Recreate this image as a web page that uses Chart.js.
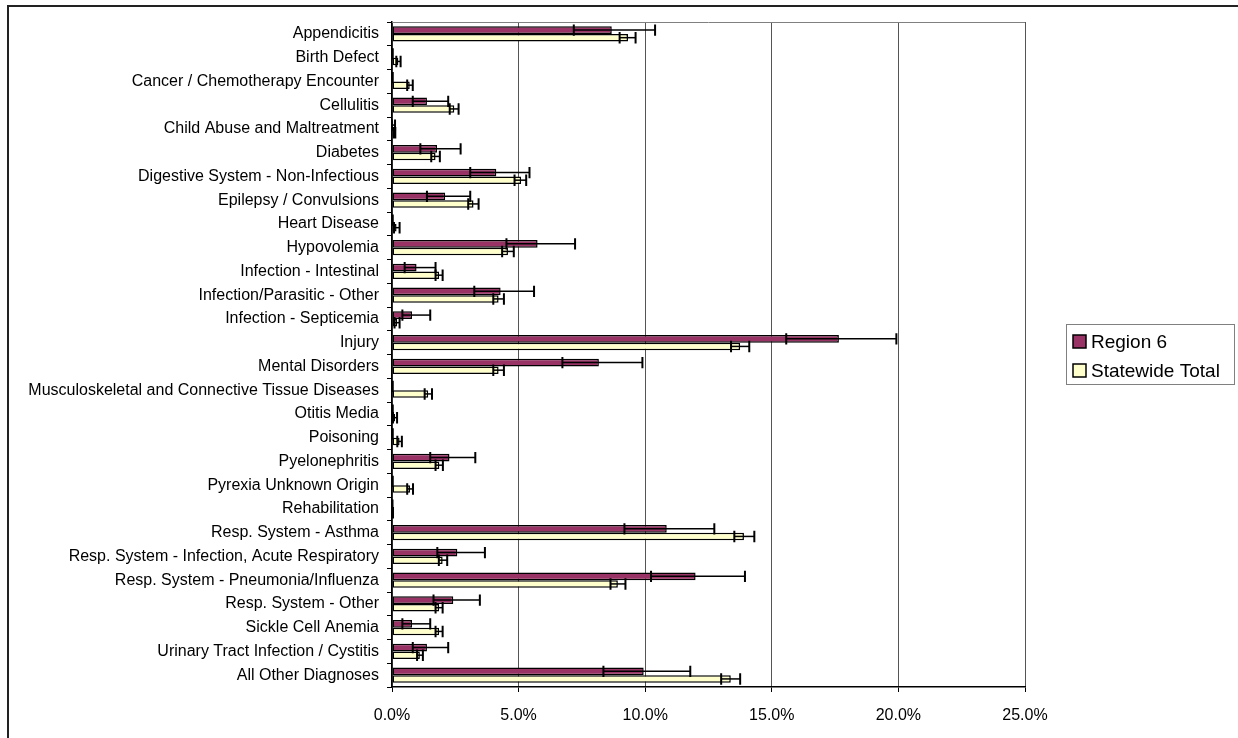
<!DOCTYPE html>
<html>
<head>
<meta charset="utf-8">
<script src="https://cdn.jsdelivr.net/npm/chart.js@4.4.1/dist/chart.umd.min.js"></script>
<style>
  html, body { margin: 0; padding: 0; background: #fff; }
  #wrap { position: relative; width: 1238px; height: 738px; }
</style>
</head>
<body>
<div id="wrap"><canvas id="chart"></canvas></div>
<script>
// Categories, top to bottom
const diagnoses = [
  'Appendicitis', 'Birth Defect', 'Cancer / Chemotherapy Encounter', 'Cellulitis',
  'Child Abuse and Maltreatment', 'Diabetes', 'Digestive System - Non-Infectious',
  'Epilepsy / Convulsions', 'Heart Disease', 'Hypovolemia', 'Infection - Intestinal',
  'Infection/Parasitic - Other', 'Infection - Septicemia', 'Injury', 'Mental Disorders',
  'Musculoskeletal and Connective Tissue Diseases', 'Otitis Media', 'Poisoning',
  'Pyelonephritis', 'Pyrexia Unknown Origin', 'Rehabilitation', 'Resp. System - Asthma',
  'Resp. System - Infection, Acute Respiratory', 'Resp. System - Pneumonia/Influenza',
  'Resp. System - Other', 'Sickle Cell Anemia', 'Urinary Tract Infection / Cystitis',
  'All Other Diagnoses'
];

// Percent of discharges, with lower / upper confidence bounds
const region6 = [8.68, 0, 0, 1.38, 0.05, 1.78, 4.12, 2.10, 0, 5.75, 0.97, 4.29, 0.79, 17.65,
  8.17, 0, 0, 0, 2.27, 0, 0, 10.85, 2.58, 11.99, 2.42, 0.79, 1.38, 9.94];
const region6Low = [7.18, 0, 0, 0.82, 0, 1.12, 3.09, 1.38, 0, 4.52, 0.50, 3.25, 0.41, 15.57,
  6.73, 0, 0, 0, 1.51, 0, 0, 9.18, 1.79, 10.23, 1.64, 0.41, 0.82, 8.35];
const region6High = [10.39, 0.03, 0.03, 2.22, 0.12, 2.71, 5.43, 3.09, 0.03, 7.23, 1.72, 5.61, 1.51, 19.92,
  9.89, 0.03, 0.03, 0.03, 3.29, 0.03, 0.02, 12.73, 3.67, 13.94, 3.47, 1.51, 2.22, 11.78];

const statewide = [9.32, 0.25, 0.70, 2.46, 0.10, 1.72, 5.10, 3.22, 0.18, 4.58, 1.86, 4.21, 0.20, 13.75,
  4.21, 1.43, 0.12, 0.30, 1.87, 0.71, 0.02, 13.90, 2.00, 8.92, 1.86, 1.86, 1.10, 13.38];
const statewideLow = [8.99, 0.17, 0.60, 2.28, 0.07, 1.55, 4.84, 3.01, 0.08, 4.35, 1.72, 4.00, 0.10, 13.39,
  4.00, 1.29, 0.04, 0.21, 1.72, 0.60, 0, 13.52, 1.85, 8.63, 1.72, 1.72, 0.99, 13.00];
const statewideHigh = [9.62, 0.34, 0.82, 2.63, 0.13, 1.89, 5.30, 3.42, 0.30, 4.81, 2.00, 4.42, 0.30, 14.11,
  4.42, 1.58, 0.20, 0.39, 2.01, 0.83, 0.04, 14.31, 2.18, 9.22, 2.00, 2.00, 1.22, 13.75];

const seriesNames = ['Region 6', 'Statewide Total'];
const seriesColors = ['#993366', '#FFFFCC'];
const errorBounds = [[region6Low, region6High], [statewideLow, statewideHigh]];

const FONT = "'Liberation Sans', Arial, sans-serif";

// Outer frame, plot frame top line
const framePlugin = {
  id: 'frame',
  beforeDraw(chart) {
    const { ctx } = chart;
    ctx.save();
    ctx.fillStyle = '#fff';
    ctx.fillRect(0, 0, chart.width, chart.height);
    ctx.strokeStyle = '#222';
    ctx.lineWidth = 2;
    ctx.beginPath();
    ctx.moveTo(8, chart.height + 5);
    ctx.lineTo(8, 6);
    ctx.lineTo(chart.width + 5, 6);
    ctx.stroke();
    ctx.restore();
  },
  afterDraw(chart) {
    const { ctx, chartArea: a } = chart;
    ctx.save();
    ctx.strokeStyle = '#808080';
    ctx.lineWidth = 1;
    ctx.beginPath();
    ctx.moveTo(a.left, a.top + 0.5);
    ctx.lineTo(a.right, a.top + 0.5);
    ctx.stroke();
    ctx.restore();
  }
};

// Error bars drawn from the bounds arrays through the x scale
const errorBarPlugin = {
  id: 'errorBars',
  afterDatasetsDraw(chart) {
    const { ctx } = chart;
    const xs = chart.scales.x;
    ctx.save();
    ctx.strokeStyle = '#000';
    chart.data.datasets.forEach((ds, i) => {
      const meta = chart.getDatasetMeta(i);
      const [lo, hi] = errorBounds[i];
      meta.data.forEach((bar, j) => {
        const y = bar.y;
        const half = bar.height * 0.75;
        const x1 = xs.getPixelForValue(lo[j]);
        const x2 = xs.getPixelForValue(hi[j]);
        ctx.lineWidth = 1.5;
        ctx.beginPath();
        ctx.moveTo(x1, y); ctx.lineTo(x2, y);
        ctx.stroke();
        ctx.lineWidth = 2;
        ctx.beginPath();
        ctx.moveTo(x1, y - half); ctx.lineTo(x1, y + half);
        ctx.moveTo(x2, y - half); ctx.lineTo(x2, y + half);
        ctx.stroke();
      });
    });
    ctx.restore();
  }
};

// Legend box at the right
const legendPlugin = {
  id: 'boxLegend',
  afterDraw(chart) {
    const { ctx } = chart;
    const bx = 1066, by = 324, bw = 168, bh = 60;
    ctx.save();
    ctx.fillStyle = '#fff';
    ctx.fillRect(bx, by, bw, bh);
    ctx.strokeStyle = '#808080';
    ctx.lineWidth = 1;
    ctx.strokeRect(bx + 0.5, by + 0.5, bw, bh);
    ctx.font = '19px ' + FONT;
    ctx.textBaseline = 'middle';
    seriesNames.forEach((name, i) => {
      const cy = by + 18 + i * 29;
      ctx.fillStyle = seriesColors[i];
      ctx.fillRect(bx + 7, cy - 7, 13, 13);
      ctx.strokeStyle = '#000';
      ctx.lineWidth = 1.5;
      ctx.strokeRect(bx + 7, cy - 7, 13, 13);
      ctx.fillStyle = '#000';
      ctx.fillText(name, bx + 25, cy + 1);
    });
    ctx.restore();
  }
};

new Chart(document.getElementById('chart'), {
  type: 'bar',
  data: {
    labels: diagnoses,
    datasets: [
      { label: seriesNames[0], data: region6, backgroundColor: seriesColors[0] },
      { label: seriesNames[1], data: statewide, backgroundColor: seriesColors[1] }
    ].map(d => Object.assign(d, {
      borderColor: '#000', borderWidth: 1.5, borderSkipped: false,
      categoryPercentage: 0.64, barPercentage: 1.0
    }))
  },
  options: {
    indexAxis: 'y',
    responsive: true,
    maintainAspectRatio: false,
    animation: false,
    layout: { padding: { top: 22, right: 213, bottom: 0, left: 0 } },
    plugins: { legend: { display: false }, tooltip: { enabled: false } },
    scales: {
      x: {
        min: 0, max: 25,
        ticks: {
          stepSize: 5, color: '#000', padding: 14,
          font: { family: FONT, size: 16 },
          callback: v => v.toFixed(1) + '%'
        },
        grid: { color: '#555', lineWidth: 1, tickLength: 5, tickColor: '#000' },
        border: { color: '#000', width: 1.5 },
        afterFit(s) { s.height = 51; }
      },
      y: {
        ticks: { color: '#000', padding: 8, autoSkip: false, font: { family: FONT, size: 16 } },
        grid: { drawOnChartArea: false, tickLength: 5, color: '#000', offset: true },
        border: { color: '#000', width: 1.5 },
        afterFit(s) { s.width = 392; }
      }
    }
  },
  plugins: [framePlugin, errorBarPlugin, legendPlugin]
});
</script>
</body>
</html>
